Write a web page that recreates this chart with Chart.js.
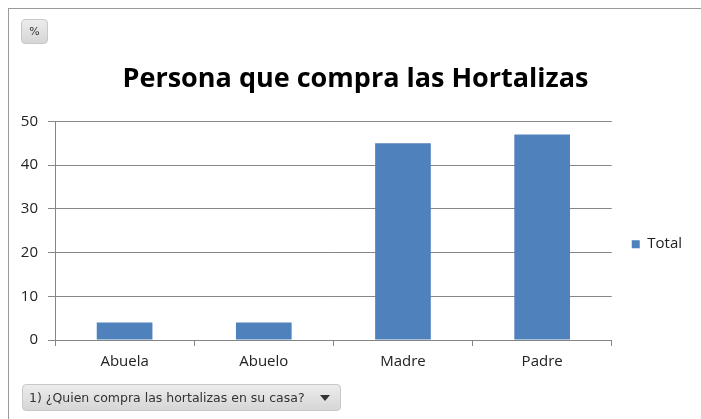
<!DOCTYPE html>
<html><head><meta charset="utf-8">
<script src="https://cdn.jsdelivr.net/npm/chart.js@4.4.0/dist/chart.umd.min.js"></script>
<style>
html,body{margin:0;padding:0;background:#fff;width:701px;height:419px;overflow:hidden;font-family:"Open Sans",sans-serif;}
#frame{position:absolute;left:8px;top:8px;width:720px;height:440px;border:1px solid #9a9a9a;}
#wrap{position:absolute;left:0;top:0;width:701px;height:419px;}
.btn{position:absolute;background:linear-gradient(#ececec,#d6d6d6);border:1px solid #c8c8c8;border-radius:4px;color:#333;font-family:"DejaVu Sans",sans-serif;box-sizing:border-box;}
#pct{left:21px;top:19px;width:27px;height:25px;font-size:11px;line-height:23px;text-align:center;}
#dd{left:22px;top:384px;width:319px;height:27px;font-size:12.5px;line-height:25px;padding-left:6px;}
#dd .arr{position:absolute;right:10px;top:10px;width:0;height:0;border-left:5px solid transparent;border-right:5px solid transparent;border-top:6px solid #333;}
</style></head>
<body>
<div id="frame"></div>
<div id="wrap"><canvas id="c" width="701" height="419"></canvas></div>
<div id="pct" class="btn">%</div>
<div id="dd" class="btn">1) ¿Quien compra las hortalizas en su casa?<span class="arr"></span></div>
<script>
const categories = ["Abuela", "Abuelo", "Madre", "Padre"];
const totalValues = [4, 4, 45, 47];
const yTicks = [0, 10, 20, 30, 40, 50];
const seriesName = "Total";
const titleText = "Persona que compra las Hortalizas";

new Chart(document.getElementById('c'), {
  type: 'bar',
  data: { labels: categories, datasets: [{ label: seriesName, data: totalValues, backgroundColor: '#4F81BD', borderWidth: 0, categoryPercentage: 0.8, barPercentage: 0.5 }] },
  options: {
    responsive: false, animation: false,
    layout: { padding: { left: 19, right: 9, top: 63, bottom: 48 } },
    plugins: {
      title: { display: true, text: titleText, color: '#000', font: { family: 'Open Sans', size: 27, weight: 'bold' }, padding: { top: 0, bottom: 26 } },
      legend: { position: 'right', title: { display: true, text: ' ', padding: { top: 0, bottom: 40 } }, labels: { boxWidth: 8, boxHeight: 8, color: '#222', font: { family: 'Open Sans', size: 15 }, padding: 20 } },
      tooltip: { enabled: false }
    },
    scales: {
      x: {
        afterFit: s => { s.height = 31; },
        grid: { drawOnChartArea: false, drawTicks: true, tickLength: 6, color: '#868686', offset: true },
        border: { color: '#868686' },
        ticks: { color: '#222', font: { family: 'Open Sans', size: 15 }, padding: 7 }
      },
      y: {
        min: 0, max: 50,
        afterFit: s => { s.width = 36; },
        afterBuildTicks: a => { a.ticks = yTicks.map(v => ({ value: v })); },
        grid: { color: '#868686', tickLength: 7 },
        border: { color: '#868686' },
        ticks: { color: '#222', font: { family: 'Open Sans', size: 15 }, padding: 10 }
      }
    }
  }
});
</script>
</body></html>
